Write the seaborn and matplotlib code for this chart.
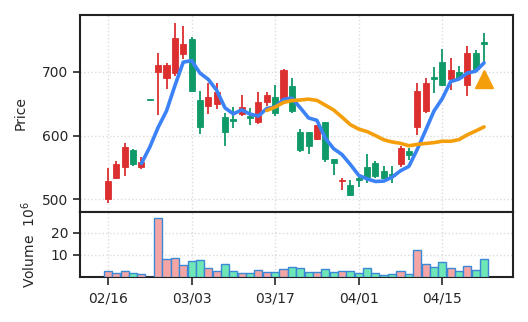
import numpy as np
import pandas as pd
import matplotlib
matplotlib.use("Agg")
import matplotlib.pyplot as plt
import seaborn as sns

# ---- data ----
tick_idx = [0, 10, 20, 30, 40]
tick_labels = ["02/16", "03/03", "03/17", "04/01", "04/15"]

opens = [500, 533, 550, 578, 550, 657.5, 699, 690, 698, 728,
         752, 655, 646, 650, 629, 626, 633, 631, 621, 653,
         661, 657, 678, 605, 605, 595, 621, 563, 528, 523,
         534, 550, 557, 544, 540, 555, 575, 613, 639, 692,
         715, 689, 700, 679, 730, 747]
highs = [549, 560, 588, 579, 566, 658, 730, 714, 776, 771,
         755, 670, 682, 683, 635, 645, 664, 643, 669, 669,
         679, 704, 690, 610, 606, 617, 622, 564, 534, 530,
         536, 571, 560, 553, 552, 583, 581, 682, 691, 707,
         735, 722, 709, 741, 734, 760]
lows = [495, 532, 537, 553, 547, 656, 632, 673, 694, 720,
        668, 602, 633, 641, 583, 612, 631, 617, 618, 646,
        630, 656, 636, 574, 571, 593, 558, 538, 515, 505,
        519, 525, 533, 532, 525, 551, 562, 601, 635, 666,
        678, 672, 687, 662, 703, 716]
closes = [529, 556, 582, 556, 558, 656.5, 711, 711, 753, 743,
          670, 613, 661, 668, 605, 623, 644, 628, 653, 664,
          635, 703, 639, 577, 584, 616, 563, 557, 531, 506,
          531, 535, 537, 534, 537, 581, 569, 670, 683, 689,
          679, 702, 690, 730, 704, 744]
volumes = [2.6, 1.5, 2.6, 1.7, 1.1, 0.0, 26.5, 7.9, 8.4, 5.2,
           7.0, 7.4, 3.8, 2.4, 5.6, 2.6, 1.5, 1.5, 3.0, 2.1,
           2.3, 3.4, 4.4, 3.8, 2.1, 2.1, 3.4, 2.1, 2.4, 2.4,
           1.7, 3.8, 1.7, 0.7, 1.1, 2.4, 1.1, 12.0, 5.6, 4.3,
           6.5, 3.8, 2.4, 4.7, 3.0, 7.9]
ma5_idx = list(range(4, 46))
ma5 = [556.2, 581.8, 612.8, 638.6, 678.0, 715.0, 717.6, 698.0, 688.0, 671.0,
       643.4, 634.0, 640.2, 633.6, 630.6, 642.4, 644.8, 656.6, 658.8, 643.6,
       627.6, 623.8, 595.8, 579.4, 570.2, 554.6, 537.6, 532.0, 528.0, 528.6,
       534.8, 544.8, 551.6, 578.2, 608.0, 638.4, 658.0, 684.6, 688.6, 698.0,
       701.0, 714.0]
ma20_idx = list(range(19, 46))
ma20 = [639.3, 644.6, 651.9, 654.8, 655.8, 657.1, 655.1, 647.7, 640.0, 628.9,
        617.0, 610.1, 606.2, 600.0, 593.3, 589.9, 587.8, 584.0, 586.1, 587.6,
        588.9, 591.1, 591.0, 593.6, 601.2, 607.2, 613.6]
signal_idx = [45]
signal_price = [689]

# ---- style ----
sns.set_theme(style="ticks")
plt.rcParams['font.family'] = ['DejaVu Sans']

RED = "#dc2f2f"
GREEN = "#0f9a68"
VRED = "#f6a5a5"
VGREEN = "#6ee6b6"
VEDGE = "#3a88d6"
BLUE = "#3b82f6"
ORANGE = "#f59e0b"
GRID = "#dcdcdc"

fig = plt.figure(figsize=(5.28, 3.22), dpi=100)
W, H = 528, 322
left, right = 80 / W, 512.5 / W
ax = fig.add_axes([left, 1 - 211.7 / H, right - left, (211.7 - 15) / H])
axv = fig.add_axes([left, 1 - 276.7 / H, right - left, (276.7 - 211.7) / H], sharex=ax)

x = np.arange(len(closes))
o = np.array(opens); c = np.array(closes)
h = np.array(highs); l = np.array(lows)
up = c >= o
colors = np.where(up, RED, GREEN)

# wicks
ax.vlines(x, l, h, colors=colors, linewidth=1.3, zorder=3)
# bodies
ax.bar(x, np.abs(c - o), bottom=np.minimum(o, c), width=0.72,
       color=colors, edgecolor=colors, linewidth=0.6, zorder=4)

df5 = pd.DataFrame({"i": ma5_idx, "v": ma5})
df20 = pd.DataFrame({"i": ma20_idx, "v": ma20})
sns.lineplot(data=df5, x="i", y="v", ax=ax, color=BLUE, linewidth=2.6, zorder=5)
sns.lineplot(data=df20, x="i", y="v", ax=ax, color=ORANGE, linewidth=2.6, zorder=5)
ax.plot(signal_idx, signal_price, linestyle="none", marker="^",
        markersize=13, color=ORANGE, zorder=6)

ax.set_ylim(480.6, 789)
ax.set_yticks([500, 600, 700])
ax.set_xlim(-3.35, 48.4)
ax.set_ylabel("Price", fontsize=10, labelpad=10)
ax.set_xlabel("")
ax.grid(True, linestyle=":", color=GRID, linewidth=1.0)
ax.tick_params(axis="x", which="both", bottom=False, labelbottom=False)
ax.tick_params(axis="y", labelsize=10, length=5, width=1.2)

# volume
vcolors = np.where(up, VRED, VGREEN)
axv.bar(x, volumes, width=0.96, color=vcolors, edgecolor=VEDGE, linewidth=1.0, zorder=3)
axv.set_ylim(0, 29.5)
axv.set_yticks([10, 20])
axv.set_ylabel("Volume  $10^6$", fontsize=10, labelpad=9)
axv.set_xticks(tick_idx)
axv.set_xticklabels(tick_labels)
axv.grid(True, linestyle=":", color=GRID, linewidth=1.0)
axv.tick_params(axis="y", labelsize=10, length=5, width=1.2)
axv.tick_params(axis="x", labelsize=10, length=6, width=1.2, pad=5)

for a in (ax, axv):
    for s in a.spines.values():
        s.set_visible(True)
        s.set_color("#222222")
        s.set_linewidth(1.5)

fig.savefig("out.png", dpi=100)
